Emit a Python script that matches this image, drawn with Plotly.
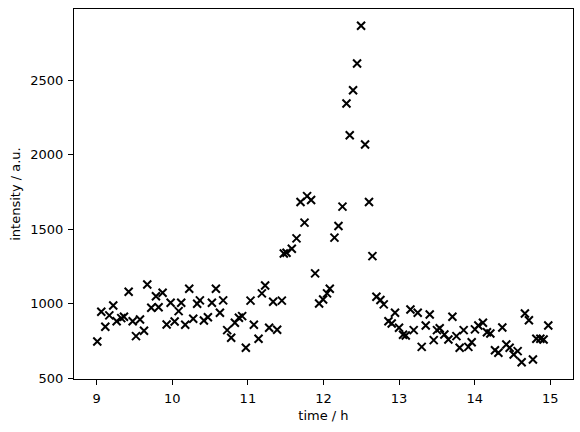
import plotly.graph_objects as go

time_h = [9.008, 9.061, 9.114, 9.167, 9.219, 9.264, 9.325, 9.361, 9.423, 9.476,
          9.520, 9.573, 9.626, 9.669, 9.722, 9.784, 9.819, 9.872, 9.925, 9.978,
          10.031, 10.084, 10.118, 10.171, 10.224, 10.277, 10.329, 10.365, 10.418, 10.471,
          10.524, 10.577, 10.630, 10.673, 10.726, 10.779, 10.828, 10.881, 10.924, 10.973,
          11.035, 11.079, 11.141, 11.185, 11.228, 11.281, 11.334, 11.387, 11.449, 11.475,
          11.511, 11.581, 11.643, 11.696, 11.749, 11.783, 11.836, 11.889, 11.942, 11.995,
          12.047, 12.083, 12.145, 12.198, 12.251, 12.304, 12.347, 12.391, 12.444, 12.497,
          12.550, 12.602, 12.647, 12.700, 12.753, 12.797, 12.859, 12.902, 12.946, 12.999,
          13.052, 13.088, 13.150, 13.193, 13.246, 13.299, 13.352, 13.405, 13.458, 13.501,
          13.537, 13.599, 13.652, 13.705, 13.758, 13.801, 13.854, 13.916, 13.960, 14.003,
          14.048, 14.109, 14.162, 14.207, 14.268, 14.313, 14.365, 14.418, 14.462, 14.515,
          14.568, 14.621, 14.664, 14.717, 14.770, 14.815, 14.868, 14.911, 14.973]

intensity = [746, 946, 845, 921, 988, 882, 903, 912, 1080, 882,
             782, 894, 818, 1129, 972, 1050, 976, 1073, 860, 1006,
             880, 950, 1006, 858, 1100, 899, 999, 1022, 887, 909,
             1006, 1100, 939, 1022, 822, 771, 872, 905, 916, 704,
             1020, 858, 764, 1069, 1122, 838, 1013, 825, 1020, 1337,
             1342, 1369, 1438, 1682, 1544, 1722, 1696, 1203, 1001, 1028,
             1069, 1100, 1443, 1521, 1651, 2343, 2130, 2433, 2612, 2865,
             2068, 1682, 1319, 1046, 1024, 995, 882, 867, 939, 838,
             791, 786, 961, 822, 939, 710, 853, 927, 755, 822,
             835, 793, 759, 912, 782, 704, 822, 710, 741, 827,
             853, 872, 808, 800, 687, 670, 840, 726, 704, 659,
             681, 607, 934, 889, 625, 764, 764, 759, 853]

x_ticks = [9, 10, 11, 12, 13, 14, 15]
y_ticks = [500, 1000, 1500, 2000, 2500]

fig = go.Figure(go.Scatter(
    x=time_h, y=intensity, mode="markers",
    marker=dict(symbol="x-thin", size=8, line=dict(width=2, color="black"), color="black"),
))

ymin, ymax = min(intensity), max(intensity)
ypad = (ymax - ymin) * 0.05

font = dict(family="DejaVu Sans", size=13, color="black")
axis_common = dict(
    showgrid=False, zeroline=False, showline=True, linecolor="black", linewidth=1,
    mirror=True, ticks="outside", ticklen=5, tickwidth=1, tickcolor="black",
    tickfont=font, automargin=False, ticklabelstandoff=2,
)

fig.update_layout(
    width=580, height=432,
    margin=dict(l=74, r=7, t=9, b=53),
    paper_bgcolor="white", plot_bgcolor="white",
    font=font, showlegend=False,
    xaxis=dict(range=[8.7, 15.3], tickvals=x_ticks,
               title=dict(text="time / h", font=font, standoff=6), **axis_common),
    yaxis=dict(range=[ymin - ypad, ymax + ypad], tickvals=y_ticks,
               title=dict(text="intensity / a.u.", font=font, standoff=6), **axis_common),
)

fig.write_html("out.html")
